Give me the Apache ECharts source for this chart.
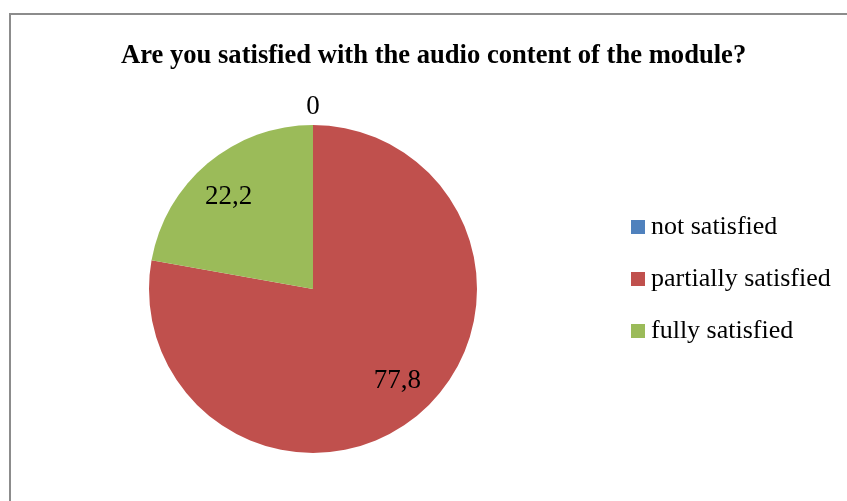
<!DOCTYPE html>
<html>
<head>
<meta charset="utf-8">
<script src="https://cdn.jsdelivr.net/npm/echarts@6/dist/echarts.min.js"></script>
<style>
  html, body { margin: 0; padding: 0; background: #fff; }
  .frame { position: absolute; left: 9px; top: 13px; width: 900px; height: 600px; border-left: 2px solid #8c8c8c; border-top: 2px solid #8c8c8c; }
  #chart { position: absolute; left: 0; top: 0; width: 847px; height: 501px; }
</style>
</head>
<body>
<div class="frame"></div>
<div id="chart"></div>
<script>
const titleText = 'Are you satisfied with the audio content of the module?'
const categories = ['not satisfied', 'partially satisfied', 'fully satisfied']
const values = [0, 77.8, 22.2]
const colors = ['#4f81bd', '#c0504d', '#9bbb59']

const font = 'Liberation Serif, Times New Roman, serif'
const pieData = categories.map((c, i) => ({ name: c, value: values[i], itemStyle: { color: colors[i] } }))
const fmt = p => String(p.value).replace('.', ',')

const chart = echarts.init(document.getElementById('chart'))
chart.setOption({
  backgroundColor: 'transparent',
  title: {
    text: titleText, left: 116, top: 38,
    textStyle: { fontFamily: font, fontSize: 26.6, fontWeight: 'bold', color: '#000' }
  },
  legend: {
    orient: 'vertical', left: 631, top: 213, itemGap: 24, padding: 0,
    itemWidth: 14, itemHeight: 14, icon: 'rect',
    data: categories,
    textStyle: { fontFamily: font, fontSize: 26, lineHeight: 28, color: '#000', padding: [0, 0, 0, 1] }
  },
  series: [
    {
      type: 'pie', silent: true, center: [313, 289], radius: [0, 164],
      startAngle: 90, clockwise: true, animation: false,
      label: { show: false }, labelLine: { show: false },
      itemStyle: { borderWidth: 0 },
      data: pieData
    },
    {
      // inner labels for non-zero slices
      type: 'pie', silent: true, center: [313, 289], radius: [80, 164],
      startAngle: 92.5, clockwise: true, animation: false,
      itemStyle: { color: 'transparent', borderWidth: 0 },
      label: { show: true, position: 'inside', fontFamily: font, fontSize: 27, color: '#000',
        formatter: p => p.value === 0 ? '' : fmt(p) },
      labelLine: { show: false },
      data: pieData.map(d => ({ name: d.name, value: d.value }))
    },
    {
      // label for the zero slice, above the pie
      type: 'pie', silent: true, center: [313, 289], radius: [160, 198],
      startAngle: 90, clockwise: true, animation: false,
      itemStyle: { color: 'transparent', borderWidth: 0 },
      label: { show: true, position: 'inside', fontFamily: font, fontSize: 27, color: '#000',
        formatter: p => p.value === 0 ? fmt(p) : '' },
      labelLine: { show: false },
      data: pieData.map(d => ({ name: d.name, value: d.value }))
    }
  ]
})
</script>
</body>
</html>
